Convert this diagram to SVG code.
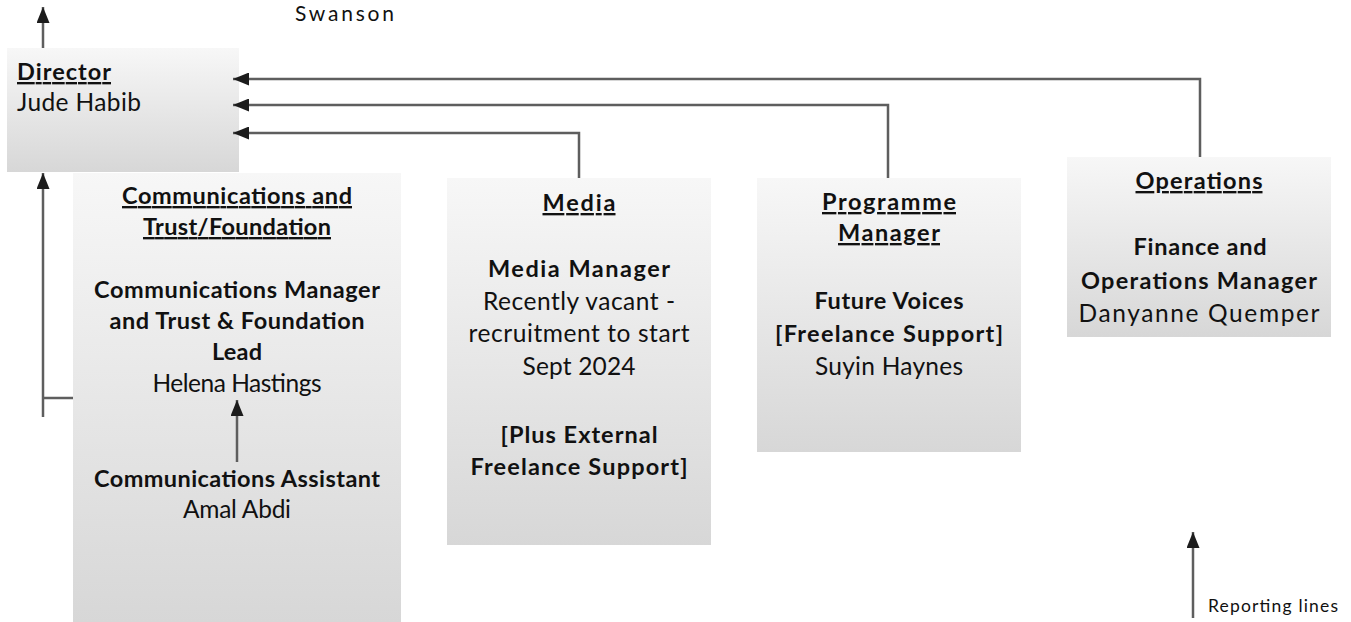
<svg xmlns="http://www.w3.org/2000/svg" width="1351" height="622" viewBox="0 0 1351 622">
<defs>
<linearGradient id="g" x1="0" y1="0" x2="0" y2="1">
<stop offset="0" stop-color="#f7f7f7"/>
<stop offset="1" stop-color="#d7d7d7"/>
</linearGradient>
<marker id="ah" markerUnits="userSpaceOnUse" markerWidth="17" markerHeight="13" refX="16" refY="6.5" orient="auto">
<path d="M0,0 L16,6.5 L0,13 z" fill="#1c1c1c"/>
</marker>
</defs>
<style>
.box{fill:url(#g);}
text{font-family:Lato,"Liberation Sans",sans-serif;font-size:24.5px;fill:#111;}
.b{font-weight:bold;font-size:23.5px;}
.u{text-decoration:underline;}
.c{text-anchor:middle;}
.ln{fill:none;stroke:#5e5e5e;stroke-width:2.5;}
.ar{marker-end:url(#ah);}
</style>
<text x="295" y="21" textLength="99" style="font-size:21px">Swanson</text>
<g id="director">
<rect class="box" x="7" y="48" width="232" height="124"/>
<text class="b u" x="17" y="80" textLength="94">Director</text>
<text x="17" y="111" textLength="124">Jude Habib</text>
</g>
<g id="communications">
<rect class="box" x="73" y="173" width="328" height="449"/>
<text class="b u c" x="237" y="204" textLength="230">Communications and</text>
<text class="b u c" x="237" y="235" textLength="188">Trust/Foundation</text>
<text class="b c" x="237" y="298" textLength="286">Communications Manager</text>
<text class="b c" x="237" y="329" textLength="255">and Trust &amp; Foundation</text>
<text class="b c" x="237" y="360" textLength="50">Lead</text>
<text class="c" x="237" y="392" textLength="169">Helena Hastings</text>
<text class="b c" x="237" y="487" textLength="286">Communications Assistant</text>
<text class="c" x="237" y="518" textLength="108">Amal Abdi</text>
</g>
<g id="media">
<rect class="box" x="447" y="178" width="264" height="367"/>
<text class="b u c" x="579" y="211" textLength="73">Media</text>
<text class="b c" x="579" y="277" textLength="182">Media Manager</text>
<text class="c" x="579" y="310" textLength="192">Recently vacant -</text>
<text class="c" x="579" y="342" textLength="221">recruitment to start</text>
<text class="c" x="579" y="375" textLength="113">Sept 2024</text>
<text class="b c" x="579" y="443" textLength="157">[Plus External</text>
<text class="b c" x="579" y="475" textLength="217">Freelance Support]</text>
</g>
<g id="programme">
<rect class="box" x="757" y="178" width="264" height="274"/>
<text class="b u c" x="889" y="210" textLength="134">Programme</text>
<text class="b u c" x="889" y="241" textLength="102">Manager</text>
<text class="b c" x="889" y="309" textLength="149">Future Voices</text>
<text class="b c" x="889" y="342" textLength="228">[Freelance Support]</text>
<text class="c" x="889" y="375" textLength="148">Suyin Haynes</text>
</g>
<g id="operations">
<rect class="box" x="1067" y="157" width="264" height="180"/>
<text class="b u c" x="1199" y="189" textLength="127">Operations</text>
<text class="b c" x="1200" y="255" textLength="133">Finance and</text>
<text class="b c" x="1199" y="289" textLength="236">Operations Manager</text>
<text class="c" x="1199" y="322" textLength="241">Danyanne Quemper</text>
</g>
<g id="connectors">
<path class="ln ar" d="M43,48 L43,7"/>
<path class="ln ar" d="M1200,157 L1200,79 L233,79"/>
<path class="ln ar" d="M888,178 L888,105 L233,105"/>
<path class="ln ar" d="M579,178 L579,133 L233,133"/>
<path class="ln ar" d="M43,417 L43,173"/>
<path class="ln" d="M43,398 L73,398"/>
<path class="ln ar" d="M237,462 L237,400"/>
<path class="ln ar" d="M1193,618 L1193,532"/>
</g>
<text x="1208" y="612" textLength="130" style="font-size:17.5px">Reporting lines</text>
</svg>
